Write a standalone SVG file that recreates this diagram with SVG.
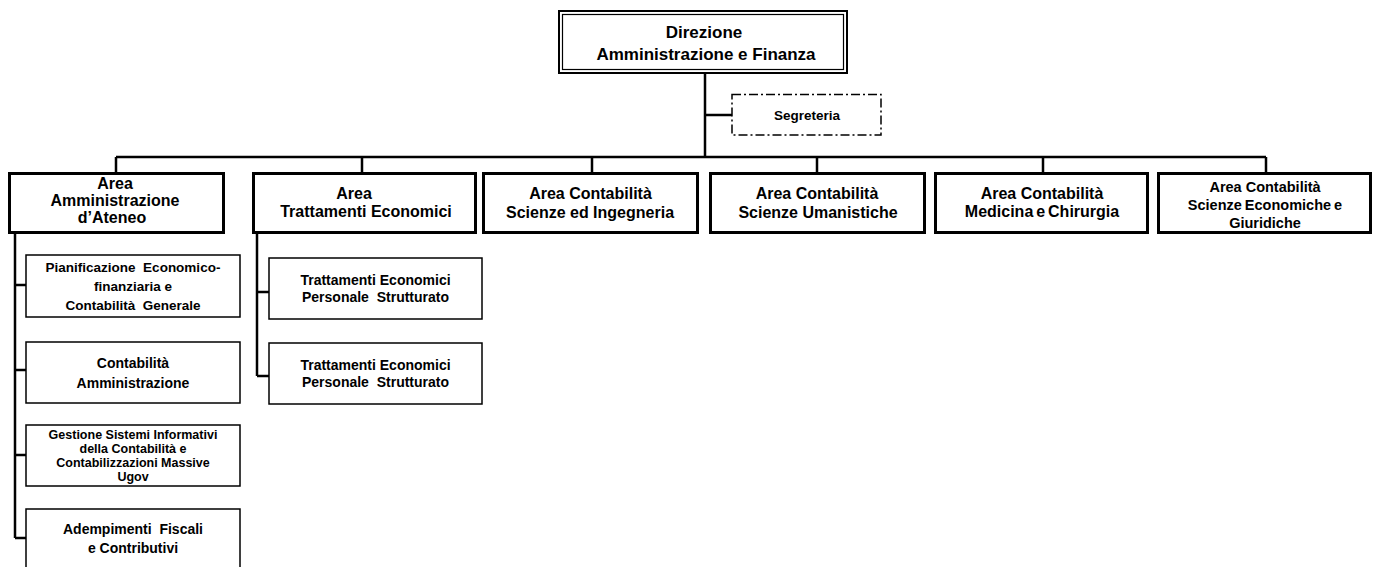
<svg xmlns="http://www.w3.org/2000/svg" width="1377" height="567" viewBox="0 0 1377 567">
<style>
text{font-family:"Liberation Sans",Arial,sans-serif;font-weight:bold;fill:#000;text-anchor:middle}
.top{font-size:17px}
.a16{font-size:16px}
.a14{font-size:14.5px}
.s14{font-size:14px}
.s135{font-size:13.5px}
.s125{font-size:12.5px}
.area{fill:#fff;stroke:#000;stroke-width:3}
.sub{fill:#fff;stroke:#000;stroke-width:1.5}
.conn{fill:none;stroke:#000;stroke-width:2.5}
</style>
<rect width="1377" height="567" fill="#fff"/>
<g id="connectors">
<path class="conn" d="M705,74V157M705,115H732M116,157H1266M116,157V173M362,157V173M592,157V173M817,157V173M1043,157V173M1266,157V173"/>
<path class="conn" d="M15,233V538M15,285H26M15,370H26M15,455H26M15,538H26"/>
<path class="conn" d="M257,233V376M257,292H269M257,376H269"/>
</g>
<g id="direzione">
<rect x="559" y="11" width="288" height="62" fill="#fff" stroke="#000" stroke-width="2"/>
<rect x="562.5" y="14.5" width="281" height="55" fill="none" stroke="#000" stroke-width="1.2"/>
<text class="top" x="704" y="38">Direzione</text>
<text class="top" x="706" y="60">Amministrazione e Finanza</text>
</g>
<g id="segreteria">
<rect x="732" y="94.5" width="149" height="40.5" fill="#fff" stroke="#000" stroke-width="1.5" stroke-dasharray="9 3 2 3"/>
<text class="s135" x="807" y="120">Segreteria</text>
</g>
<g id="area-amministrazione">
<rect class="area" x="9.5" y="173.5" width="214" height="59"/>
<text class="a16" x="115" y="189">Area</text>
<text class="a16" x="115" y="206">Amministrazione</text>
<text class="a16" x="112" y="223">d’Ateneo</text>
</g>
<g id="area-trattamenti">
<rect class="area" x="253.5" y="173.5" width="222" height="59"/>
<text class="a16" x="354" y="199">Area</text>
<text class="a16" x="366" y="217">Trattamenti Economici</text>
</g>
<g id="area-scienze-ingegneria">
<rect class="area" x="483.5" y="173.5" width="214" height="59"/>
<text class="a16" x="590.5" y="199">Area Contabilità</text>
<text class="a16" x="590" y="218">Scienze ed Ingegneria</text>
</g>
<g id="area-scienze-umanistiche">
<rect class="area" x="710.5" y="173.5" width="214" height="59"/>
<text class="a16" x="817" y="199">Area Contabilità</text>
<text class="a16" x="818" y="218">Scienze Umanistiche</text>
</g>
<g id="area-medicina">
<rect class="area" x="935.5" y="173.5" width="212" height="59"/>
<text class="a16" x="1042" y="199">Area Contabilità</text>
<text class="a16" x="1042" y="217" word-spacing="-1.5">Medicina e Chirurgia</text>
</g>
<g id="area-economiche">
<rect class="area" x="1158.5" y="173.5" width="212" height="59"/>
<text class="a14" x="1265" y="192">Area Contabilità</text>
<text class="a14" x="1265" y="210" word-spacing="-1">Scienze Economiche e</text>
<text class="a14" x="1265" y="228">Giuridiche</text>
</g>
<g id="pianificazione">
<rect class="sub" x="26" y="255" width="214" height="62"/>
<text class="s135" x="133" y="272" xml:space="preserve">Pianificazione  Economico-</text>
<text class="s135" x="133" y="291">finanziaria e</text>
<text class="s135" x="133" y="310" xml:space="preserve">Contabilità  Generale</text>
</g>
<g id="contabilita-amministrazione">
<rect class="sub" x="26" y="342" width="214" height="61"/>
<text class="s14" x="133" y="368">Contabilità</text>
<text class="s14" x="133" y="388">Amministrazione</text>
</g>
<g id="gestione-sistemi">
<rect class="sub" x="26" y="425" width="214" height="61"/>
<text class="s125" x="133" y="439">Gestione Sistemi Informativi</text>
<text class="s125" x="133" y="453">della Contabilità e</text>
<text class="s125" x="133" y="467">Contabilizzazioni Massive</text>
<text class="s125" x="133" y="481">Ugov</text>
</g>
<g id="adempimenti">
<rect class="sub" x="26" y="509" width="214" height="70"/>
<text class="s14" x="133" y="534" xml:space="preserve">Adempimenti  Fiscali</text>
<text class="s14" x="133" y="553">e Contributivi</text>
</g>
<g id="trattamenti-1">
<rect class="sub" x="269" y="258" width="213" height="61"/>
<text class="s14" x="375.5" y="285">Trattamenti Economici</text>
<text class="s14" x="375.5" y="302" xml:space="preserve">Personale  Strutturato</text>
</g>
<g id="trattamenti-2">
<rect class="sub" x="269" y="343" width="213" height="61"/>
<text class="s14" x="375.5" y="370">Trattamenti Economici</text>
<text class="s14" x="375.5" y="387" xml:space="preserve">Personale  Strutturato</text>
</g>
</svg>
